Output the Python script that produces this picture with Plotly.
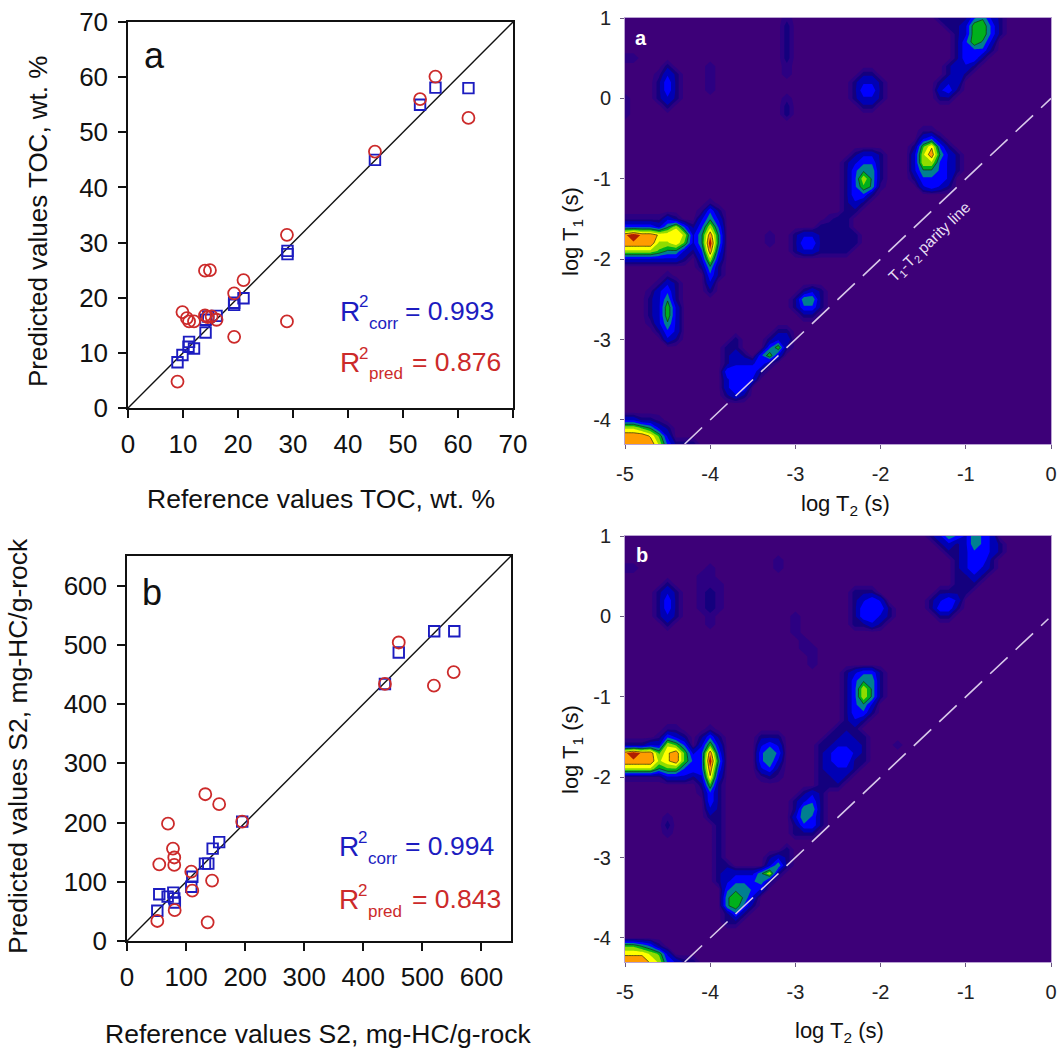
import plotly.graph_objects as go

W, H = 1059, 1048
FONT = "Liberation Sans"

# ---------- scatter data: panel a (TOC)
toc_pred_x = [28.9, 14.0, 14.9, 21.0, 19.3, 9.9, 10.7, 11.1, 12.0, 14.0, 15.2, 16.1, 14.5, 28.9, 19.3, 9.0, 55.9, 53.1, 61.9, 44.9]
toc_pred_y = [31.4, 24.9, 25.0, 23.2, 20.8, 17.4, 16.3, 15.7, 15.7, 16.8, 16.6, 16.0, 16.5, 15.7, 12.9, 4.8, 60.1, 56.0, 52.6, 46.5]
toc_corr_x = [9.0, 9.9, 11.1, 11.0, 12.0, 14.1, 14.1, 14.6, 16.1, 19.3, 19.3, 21.0, 29.0, 29.0, 55.9, 53.1, 61.9, 44.9]
toc_corr_y = [8.3, 9.6, 12.0, 11.1, 10.8, 13.7, 16.0, 16.6, 16.7, 18.7, 19.1, 19.9, 28.5, 27.9, 58.1, 55.0, 58.0, 45.0]

# ---------- scatter data: panel b (S2)
s2_pred_x = [132.5, 156, 69.4, 195, 77.8, 80, 54.6, 80, 108.8, 144, 110.5, 80.7, 51.3, 136.5, 460, 553, 519.5, 436.6]
s2_pred_y = [247.8, 231, 198, 201.5, 156, 141, 129.5, 128.4, 117, 102, 85, 52, 33.8, 31.5, 504, 454, 431, 434]
s2_corr_x = [51.3, 54.6, 68.8, 78.4, 80, 81, 110.5, 108.8, 132, 137.6, 145, 156, 195, 520, 554, 460, 436.6]
s2_corr_y = [51, 79, 75, 81.6, 72, 65, 108.6, 91.7, 130.6, 130.6, 156, 167, 201.5, 523, 523, 487, 434]

# ---------- parity / 1:1 lines
toc_line = [0, 70]
s2_line = [0, 650]
parity_t2 = [-4.3, 0]
parity_t1 = [-4.3, 0]
parity_b_t2 = [-4.3, -0.03]

# ---------- axis ticks
toc_ticks = [0, 10, 20, 30, 40, 50, 60, 70]
s2_ticks = [0, 100, 200, 300, 400, 500, 600]
t2_ticks = [-5, -4, -3, -2, -1, 0]
t2_labels = ["-5", "-4", "-3", "-2", "-1", "0"]
t1_ticks = [1, 0, -1, -2, -3, -4]
t1_labels = ["1", "0", "-1", "-2", "-3", "-4"]

# ---------- T1-T2 maps: intensity class 0-9.
# One row per log T1 (1.0 down to -4.3, step 0.1); columns log T2 from -5.0, step 0.1
# ('.'=0, 'f'=faint, below class 1).
t2_grid = [round(-5 + 0.1 * i, 1) for i in range(51)]
t1_grid = [round(1 - 0.1 * i, 1) for i in range(54)]

map_a = [
 "..... ..... ..... ....f ..... ..... ..... ..111 13421",  # 1.0
 "..... ..... ..... ....1 ..... ..... ..... ...11 25531",
 "..... ..... ..... ....1 ..... ..... ..... ....1 25531",
 "..... ..... ..... ....1 ..... ..... ..... ....1 35420",
 "..... ..... ..... ....1 ..... ..... ..... ....1 33310",
 "ff... ..... ..... ....1 ..... ..... ..... ....1 33100",
 "..... 1.... f.... ....f ..... ..... ..... ...12 21000",
 "....f 21... f.... ....f ..... ...11 ..... ...12 10000",
 "....1 31... f.... ..... ..... ..122 1.... ..122 .....",
 "....1 31... f.... ..... ..... ..133 1.... ..231 .....",
 "f...1 21... ..... ....f ..... ..122 1.... ..110 .....",  # 0.0
 "f.... 1.... ..... ....1 ..... ...11 ..... ..... .....",
 "f.... ..... ..... ....1 ..... ..... ..... ..... .....",
 "..... ..... ..... ..... ..... ..... ..... ..... .....",
 "..... ..... ..... ..... ..... ..... ..... ff... .....",
 "..... ..... ..... ..... ..... ..... ..... 23100 .....",
 "..... ..... ..... ..... ..... ..... ....1 57310 .....",
 "..... ..... ..... ..... ..... ..122 1...2 68421 .....",
 "..... ..... ..... ..... ..... .1233 1...2 66321 .....",
 "..... ..... ..... ..... ..... .1344 1...2 44321 .....",
 "..... ..... ..... ..... ..... .1364 1...1 33320 .....",  # -1.0
 "..... ..... ..... ..... ..... .1354 f.... 23210 .....",
 "..... ..... ..... ..... ..... .1331 ..... ..... .....",
 "..... ..... f.... ..... ..... .1210 ..... ..... .....",
 "..... ....f 31... ..... ..... .11.. ..... ..... .....",
 "fffff 21..2 42... ..... ....f 11... ..... ..... .....",
 "33332 46313 63... ..... ...11 11... ..... ..... .....",
 "89887 77624 84... ..f.. 12211 111.. ..... ..... .....",
 "88886 67524 94... ..f.. 13311 111.. ..... ..... .....",
 "66665 44213 83... ..... 12211 11... ..... ..... .....",
 "22222 221.2 62... ..... ..... ..... ..... ..... .....",  # -2.0
 "..... ....1 41... ..... ..... ..... ..... ..... .....",
 "..... f.... 31... ..... ..... ..... ..... ..... .....",
 "....f 21... 2.... ..... ..... ..... ..... ..... .....",
 "...f2 31... 1.... ..... .121. ..... ..... ..... .....",
 "...12 41... ..... ..... 1441. ..... ..... ..... .....",
 "...12 52... ..... ..... 1331. ..... ..... ..... .....",
 "...12 52... ..... ..... .11.. ..... ..... ..... .....",
 "...f2 42... ..... ..... ..... ..... ..... ..... .....",
 "....1 32... ..... ...11 ..... ..... ..... ..... .....",
 "..... 21... ...1. ..122 ..... ..... ..... ..... .....",  # -3.0
 "..... ..... ..11. ..351 ..... ..... ..... ..... .....",
 "..... ..... ..121 .352. ..... ..... ..... ..... .....",
 "..... ..... ..122 231.. ..... ..... ..... ..... .....",
 "..... ..... ..333 31... ..... ..... ..... ..... .....",
 "..... ..... ..233 2.... ..... ..... ..... ..... .....",
 "..... ..... ..233 ..... ..... ..... ..... ..... .....",
 "..... ..... ..121 ..... ..... ..... ..... ..... .....",
 "..... ..... ..... ..... ..... ..... ..... ..... .....",
 "..... ..... ..... ..... ..... ..... ..... ..... .....",
 "2211f ..... ..... ..... ..... ..... ..... ..... .....",  # -4.0
 "66542 1.... ..... ..... ..... ..... ..... ..... .....",
 "88875 2.... ..... ..... ..... ..... ..... ..... .....",
 "88886 3111. ..... ..... ..... ..... ..... ..... .....",
]

map_b = [
 "..... ..... ..... ..... ..... ..... ..... .1243 24320",  # 1.0
 "..... ..... ..... ..... ..... ..... ..... ..121 24321",
 "..... ..... ..... ..... ..... ..... ..... ...11 23321",
 "..... ..... ..... ...f. ..... ..... ..... ....1 23310",
 "ff... ..... f.... ...f. ..... ..... ..... ....1 23210",
 "..... ....f f.... ..... ..... ..... ..... ....1 12100",
 "..... 1...f ff... ..... ..... ..... ..... ....1 11000",
 "....1 21..f 1f... ..... ..... ..111 ..... ..111 10000",
 "....1 31..f 1f... ..... ..... ..123 2.... .1232 .....",
 "....1 31..f 1f... ..... ..... ..133 31... .1331 .....",
 "....1 21... f.... ..... f.... ..133 21... ..11. .....",  # 0.0
 "..... 1.... f.... ..... f.... ..112 1.... ..... .....",
 "..... ..... ..... ..... f.... ..... ..... ..... .....",
 "..... ..... ..... ..... .f... ..... ..... ..... .....",
 "..... ..... ..... ..... .ff.. ..... ..... ..... .....",
 "..... ..... ..... ..... ..f.. ..... ..... ..... .....",
 "..... ..... ..... ..... ..f.. ..... ..... ..... .....",
 "..... ..... ..... ..... ..... .1233 1.... ..... .....",
 "..... ..... ..... ..... ..... .1344 1.... ..... .....",
 "..... ..... ..... ..... ..... .1364 1.... ..... .....",
 "..... ..... ..... ..... ..... .1364 1.... ..... .....",  # -1.0
 "..... ..... ..... ..... ..... .1342 ..... ..... .....",
 "..... ..... ..... ..... ..... .1331 ..... ..... .....",
 "..... ..... ..... ..... ..... .121. ..... ..... .....",
 "..... ff... f.... ..... ..... 111.. ..... ..... .....",
 "....f 321.1 31... .111. ....1 1211. ..... ..... .....",
 "11122 65302 52... .232. ...11 2221. ..f.. ..... .....",
 "89885 78523 83... .343. ...12 3321. ..... ..... .....",
 "88886 78533 94... .342. ...12 3311. ..... ..... .....",
 "66664 55333 83... .231. ...12 221.. ..... ..... .....",
 "fffff 22212 72... .f1f. ...11 21... ..... ..... .....",  # -2.0
 "..... ....1 51... ..... ...11 1.... ..... ..... .....",
 "..... ....f 31... ..... .121. ..... ..... ..... .....",
 "..... ..... 31... ..... 1231. ..... ..... ..... .....",
 "..... ..... 21... ..... 1441. ..... ..... ..... .....",
 "..... f.... 11... ..... 2431. ..... ..... ..... .....",
 "..... 1.... .1... ..... 1331. ..... ..... ..... .....",
 "..... f.... .1... ..... 111.. ..... ..... ..... .....",
 "..... ..... .1... ..... ..... ..... ..... ..... .....",
 "..... ..... .1... ....1 ..... ..... ..... ..... .....",
 "..... ..... .1... ..121 ..... ..... ..... ..... .....",  # -3.0
 "..... ..... .11.. ..241 ..... ..... ..... ..... .....",
 "..... ..... .1222 2461. ..... ..... ..... ..... .....",
 "..... ..... .1233 341.. ..... ..... ..... ..... .....",
 "..... ..... ..344 32... ..... ..... ..... ..... .....",
 "..... ..... ..454 2.... ..... ..... ..... ..... .....",
 "..... ..... ..453 1.... ..... ..... ..... ..... .....",
 "..... ..... ..131 ..... ..... ..... ..... ..... .....",
 "..... ..... ..11. ..... ..... ..... ..... ..... .....",
 "..... ..... ..... ..... ..... ..... ..... ..... .....",
 "..... ..... ..... ..... ..... ..... ..... ..... .....",  # -4.0
 "55431 ..... ..... ..... ..... ..... ..... ..... .....",
 "77765 2.... ..... ..... ..... ..... ..... ..... .....",
 "88876 3211. ..... ..... ..... ..... ..... ..... .....",
]

band_colors = ["#3d0078", "#14007e", "#0000b4", "#0000ff", "#007f90",
               "#00b01c", "#90dc00", "#ffff00", "#ff9c00", "#b01e00"]
faint_color = "#2c0082"


def parse(rows):
    out = []
    for r in rows:
        s = r.replace(" ", "").replace(".", "0")
        s = s.ljust(len(t2_grid), "0")
        out.append([0.5 if c == "f" else int(c) for c in s])
    return out


def step_scale():
    # half-class contour bands: class n fills (n-0.8, n+0.2); the lowest half of class 1 is the faint glow
    cols = [band_colors[0], faint_color, band_colors[1]]
    for c in band_colors[2:]:
        cols += [c, c]
    n = len(cols)
    sc = []
    for i, c in enumerate(cols):
        sc += [[i / n, c], [(i + 1) / n, c]]
    return sc, n


def dx(a, b):
    return [a / W, b / W]


def dy(top, bottom):
    return [1 - bottom / H, 1 - top / H]


fig = go.Figure()
BLUE, RED = "#1c1cc0", "#cc2a2a"


def scatter_panel(xa, ya, line, px, py, cx, cy):
    fig.add_trace(go.Scatter(x=line, y=line, xaxis=xa, yaxis=ya, mode="lines",
                             line=dict(color="#111111", width=1.4), showlegend=False))
    fig.add_trace(go.Scatter(x=cx, y=cy, xaxis=xa, yaxis=ya, mode="markers", showlegend=False,
                             marker=dict(symbol="square-open", size=10.5, color=BLUE, line=dict(width=1.9, color=BLUE))))
    fig.add_trace(go.Scatter(x=px, y=py, xaxis=xa, yaxis=ya, mode="markers", showlegend=False,
                             marker=dict(symbol="circle-open", size=12, color=RED, line=dict(width=1.8, color=RED))))


def map_panel(xa, ya, rows, pt2, pt1):
    z = parse(rows)
    sc, n = step_scale()
    fig.add_trace(go.Contour(x=t2_grid, y=t1_grid, z=z, xaxis=xa, yaxis=ya, zmin=-0.3, zmax=-0.3 + 0.5 * n,
                             colorscale=sc, showscale=False, hoverinfo="skip",
                             contours=dict(coloring="fill", showlines=False, start=0.2, end=8.7, size=0.5),
                             line=dict(width=0, smoothing=0)))
    fig.add_trace(go.Contour(x=t2_grid, y=t1_grid, z=z, xaxis=xa, yaxis=ya, showscale=False, hoverinfo="skip",
                             contours=dict(coloring="none", start=4.2, end=7.2, size=3),
                             line=dict(width=0.7, color="#1a2a10", smoothing=0)))
    fig.add_trace(go.Scatter(x=pt2, y=pt1, xaxis=xa, yaxis=ya, mode="lines", showlegend=False,
                             line=dict(color="#d8c8ea", width=1.6, dash="24px,11px")))


scatter_panel("x", "y", toc_line, toc_pred_x, toc_pred_y, toc_corr_x, toc_corr_y)
scatter_panel("x2", "y2", s2_line, s2_pred_x, s2_pred_y, s2_corr_x, s2_corr_y)
map_panel("x3", "y3", map_a, parity_t2, parity_t1)
map_panel("x4", "y4", map_b, parity_b_t2, parity_b_t2)

left_ax = dict(showgrid=False, zeroline=False, mirror=True, showline=True, linecolor="#111111", linewidth=1.5,
               ticks="outside", ticklen=8, tickwidth=1.8, tickcolor="#111111",
               tickfont=dict(family=FONT, size=26, color="#111111"))
right_ax = dict(showgrid=False, zeroline=False, showline=True, mirror=True, linecolor="#b9a2d2", linewidth=1,
                ticks="outside", ticklen=4, tickwidth=1, tickcolor="#6a5a80",
                tickfont=dict(family=FONT, size=20, color="#222222"))

fig.update_layout(
    width=W, height=H, margin=dict(l=0, r=0, t=0, b=0, autoexpand=False), autosize=False,
    paper_bgcolor="white", plot_bgcolor="white", showlegend=False,
    xaxis=dict(domain=dx(128, 513), range=[0, 70], tickvals=toc_ticks, anchor="y", ticklabelstandoff=4, **left_ax),
    yaxis=dict(domain=dy(22, 408), range=[0, 70], tickvals=toc_ticks, anchor="x", ticklabelstandoff=5, **left_ax),
    xaxis2=dict(domain=dx(127, 511), range=[0, 650], tickvals=s2_ticks, anchor="y2", ticklabelstandoff=4, **left_ax),
    yaxis2=dict(domain=dy(556, 941), range=[0, 650], tickvals=s2_ticks, anchor="x2", ticklabelstandoff=5, **left_ax),
    xaxis3=dict(domain=dx(625, 1051), range=[-5, 0], tickvals=t2_ticks, ticktext=t2_labels, anchor="y3", ticklabelstandoff=8, **right_ax),
    yaxis3=dict(domain=dy(18, 444), range=[-4.3, 1], tickvals=t1_ticks, ticktext=t1_labels, anchor="x3", ticklabelstandoff=5, **right_ax),
    xaxis4=dict(domain=dx(625, 1051), range=[-5, 0], tickvals=t2_ticks, ticktext=t2_labels, anchor="y4", ticklabelstandoff=8, **right_ax),
    yaxis4=dict(domain=dy(536, 962), range=[-4.3, 1], tickvals=t1_ticks, ticktext=t1_labels, anchor="x4", ticklabelstandoff=5, **right_ax),
)


def label(txt, x, y, size, color="#111111", angle=0, anchor="center", bold=False):
    if bold:
        txt = "<b>" + txt + "</b>"
    fig.add_annotation(text=txt, x=x / W, y=1 - y / H, xref="paper", yref="paper", showarrow=False,
                       xanchor=anchor, yanchor="middle", textangle=angle,
                       font=dict(family=FONT, size=size, color=color))


def r2(x, y, sub, val, color, xval):
    label("R", x, y, 28, color, anchor="left")
    label("2", x + 19, y - 9, 17, color, anchor="left")
    label(sub, x + 29, y + 12, 17, color, anchor="left")
    label("= " + val, xval, y, 26.5, color, anchor="left")


label("a", 154, 55, 36)
label("b", 152, 592, 36)
label("Reference values TOC, wt. %", 321, 499, 26.5)
label("Predicted values TOC, wt. %", 38, 222, 26, angle=-90)
label("Reference values S2, mg-HC/g-rock", 318, 1034, 26.5)
label("Predicted values S2, mg-HC/g-rock", 18, 746, 26.5, angle=-90)
r2(338, 311, "corr", "0.993", BLUE, 403)
r2(338, 362, "pred", "0.876", RED, 410)
r2(337, 846, "corr", "0.994", BLUE, 403)
r2(337, 899, "pred", "0.843", RED, 410)

label("a", 641, 38, 20, "white", bold=True)
label("b", 642, 555, 20, "white", bold=True)
label("T<sub>1</sub>-T<sub>2</sub> parity line", 930, 243, 15.5, "#e6dcf2", angle=-44)
label("log T<sub>2</sub> (s)", 845, 505, 22)
label("log T<sub>2</sub> (s)", 839, 1032, 22)
label("log T<sub>1</sub> (s)", 572, 232, 22, angle=-90)
label("log T<sub>1</sub> (s)", 572, 750, 22, angle=-90)

fig.write_html("out.html", config={"displayModeBar": False}, post_script="document.body.style.margin='0';")
